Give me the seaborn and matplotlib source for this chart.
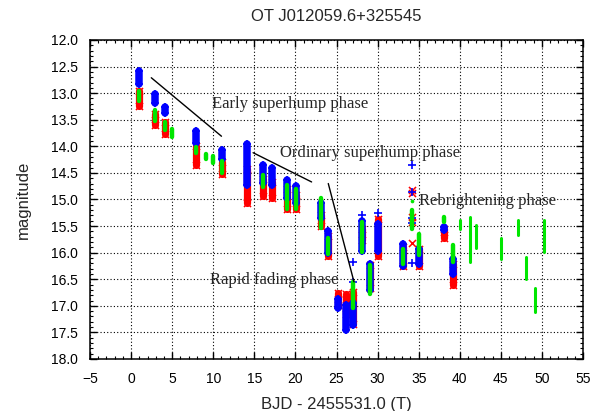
import numpy as np
import pandas as pd
import matplotlib
matplotlib.use("Agg")
import matplotlib.pyplot as plt
import seaborn as sns
from matplotlib.ticker import MultipleLocator, FormatStrFormatter

# Nightly magnitude ranges (T = BJD - 2455531.0); lo = brightest, hi = faintest
blue_t = [0.95, 2.87, 4.09, 7.95, 11.12, 14.05, 16.07, 17.10, 19.00, 20.06, 23.07,
          24.00, 25.20, 26.20, 27.00, 28.07, 29.10, 30.10, 33.07, 35.10, 38.10, 39.17]
blue_lo = [12.58, 13.02, 13.26, 13.72, 14.06, 13.96, 14.35, 14.40, 14.63, 14.75, 15.06,
           15.59, 16.87, 16.99, 16.94, 15.40, 16.21, 15.46, 15.84, 15.93, 15.52, 16.12]
blue_hi = [12.82, 13.18, 13.38, 13.93, 14.24, 14.73, 14.69, 14.73, 14.98, 15.07, 15.35,
           16.01, 17.04, 17.45, 17.36, 15.96, 16.70, 15.97, 16.25, 16.22, 15.57, 16.41]

red_t = [0.95, 2.87, 4.09, 7.95, 11.12, 14.05, 16.07, 17.10, 19.00, 20.06, 23.07,
         24.00, 25.20, 26.20, 27.00, 28.07, 29.10, 30.10, 33.07, 35.10, 38.10, 39.17]
red_lo = [12.96, 13.39, 13.55, 13.99, 14.30, 14.43, 14.62, 14.68, 14.81, 14.92, 15.29,
          15.69, 16.75, 16.78, 16.74, 15.56, 16.24, 15.37, 15.89, 15.94, 15.56, 16.21]
red_hi = [13.24, 13.60, 13.76, 14.35, 14.52, 15.07, 14.94, 14.98, 15.18, 15.18, 15.50,
          16.06, 16.98, 17.16, 17.35, 15.76, 16.66, 16.07, 16.26, 16.26, 15.73, 16.60]

green_t = [0.95, 2.87, 4.09, 5.02, 7.95, 9.09, 9.98, 11.12, 16.07, 19.00, 20.06, 23.07,
           24.00, 27.00, 28.07, 29.10, 33.07, 34.17, 35.10, 38.10, 39.17, 40.06, 41.20,
           42.00, 45.00, 47.05, 48.10, 49.10, 50.20]
green_lo = [12.95, 13.32, 13.54, 13.67, 14.01, 14.15, 14.18, 14.28, 14.54, 14.73, 14.81,
            14.97, 15.73, 16.55, 15.42, 16.23, 15.93, 15.20, 15.64, 15.33, 15.86, 15.39,
            15.33, 15.48, 15.73, 15.39, 16.08, 16.67, 15.39]
green_hi = [13.14, 13.52, 13.70, 13.83, 14.13, 14.23, 14.32, 14.50, 14.77, 15.17, 15.17,
            15.53, 16.02, 17.05, 15.98, 16.77, 16.22, 15.55, 16.05, 15.42, 16.17, 15.55,
            16.17, 15.92, 16.11, 15.67, 16.49, 17.11, 15.98]

# Single scattered measurements
blue_pt_t = [27.00, 27.00, 28.07, 30.10, 34.17, 34.17, 34.17, 34.17, 34.17]
blue_pt_m = [16.17, 16.55, 15.30, 15.25, 14.36, 14.85, 15.35, 15.45, 16.20]
red_pt_t = [34.17, 34.17, 34.17, 34.17, 34.17]
red_pt_m = [14.82, 14.88, 15.33, 15.42, 15.82]
green_pt_t = [34.17]
green_pt_m = [15.02]

# Phase annotations: guide line (t0, m0, t1, m1) and label anchor
phase_names = ["Early superhump phase", "Ordinary superhump phase",
               "Rapid fading phase", "Rebrightening phase"]
phase_text_t = [9.8, 18.1, 9.6, 35.1]
phase_text_m = [13.21, 14.12, 16.52, 15.03]
guide_lines = [(2.46, 12.71, 11.0, 13.81),
               (14.85, 14.12, 21.97, 14.67),
               (24.0, 14.70, 27.13, 16.55)]

BLUE = "#0000ff"
RED = "#ff0000"
GREEN = "#00e600"

sns.set_style("ticks")
plt.rcParams["font.family"] = ["Liberation Sans", "DejaVu Sans"]

fig = plt.figure(figsize=(5.91, 4.11), dpi=100)
ax = fig.add_axes([90 / 591, 1 - 359 / 411, 493 / 591, 319 / 411])


def draw_band(t, lo, hi, pt_t, pt_m, color, marker, lw, ms, mlw, z):
    t = np.asarray(t)
    lo = np.asarray(lo)
    hi = np.asarray(hi)
    segs = ax.vlines(t, lo, hi, colors=color, linewidth=lw, zorder=z)
    segs.set_capstyle("round")
    ends = pd.DataFrame({"t": np.concatenate([t, t, pt_t]),
                         "m": np.concatenate([lo, hi, pt_m])})
    sns.scatterplot(data=ends, x="t", y="m", marker=marker, color=color, s=ms,
                    linewidth=mlw, ax=ax, zorder=z + 0.1, legend=False)


draw_band(red_t, red_lo, red_hi, red_pt_t, red_pt_m, RED, "x", 5.2, 26, 1.1, 3)
draw_band(blue_t, blue_lo, blue_hi, blue_pt_t, blue_pt_m, BLUE, "+", 5.4, 34, 1.2, 4)

# Green: wider strokes for the outburst nights, thinner for the rebrightenings
gt = np.asarray(green_t)
early = gt < 39.5
g_lo = np.asarray(green_lo)
g_hi = np.asarray(green_hi)
for mask, width in ((early, 3.2), (~early, 2.2)):
    segs = ax.vlines(gt[mask], g_lo[mask], g_hi[mask], colors=GREEN, linewidth=width,
                     zorder=5)
    segs.set_capstyle("round")
sns.scatterplot(x=green_pt_t, y=green_pt_m, marker="o", color=GREEN, s=7,
                linewidth=0, ax=ax, zorder=5.1, legend=False)

for (t0, m0, t1, m1) in guide_lines:
    ax.plot([t0, t1], [m0, m1], color="black", linewidth=1.0, zorder=6)

for name, tt, mm in zip(phase_names, phase_text_t, phase_text_m):
    ax.text(tt, mm, name, family=["Liberation Serif", "DejaVu Serif"], fontsize=12,
            ha="left", va="center", zorder=7)

ax.set_xlim(-5, 55)
ax.set_ylim(18, 12)
ax.xaxis.set_major_locator(MultipleLocator(5))
ax.xaxis.set_minor_locator(MultipleLocator(1))
ax.yaxis.set_major_locator(MultipleLocator(0.5))
ax.yaxis.set_minor_locator(MultipleLocator(0.1))
ax.yaxis.set_major_formatter(FormatStrFormatter("%.1f"))

ax.grid(True, which="major", color="black", linestyle=(0, (1, 2)), linewidth=0.8)
ax.set_axisbelow(True)
ax.tick_params(which="both", direction="in", top=True, right=True, color="black",
               labelsize=10, labelcolor="black")
ax.tick_params(which="major", length=5, width=1, pad=9)
ax.tick_params(which="minor", length=2.5, width=0.8)
for sp in ax.spines.values():
    sp.set_color("black")
    sp.set_linewidth(1.1)

ax.set_title("OT J012059.6+325545", fontsize=12, pad=14)
ax.set_xlabel("BJD - 2455531.0 (T)", fontsize=12, labelpad=8)
ax.set_ylabel("magnitude", fontsize=12, labelpad=14)

fig.savefig("out.png", dpi=100)
